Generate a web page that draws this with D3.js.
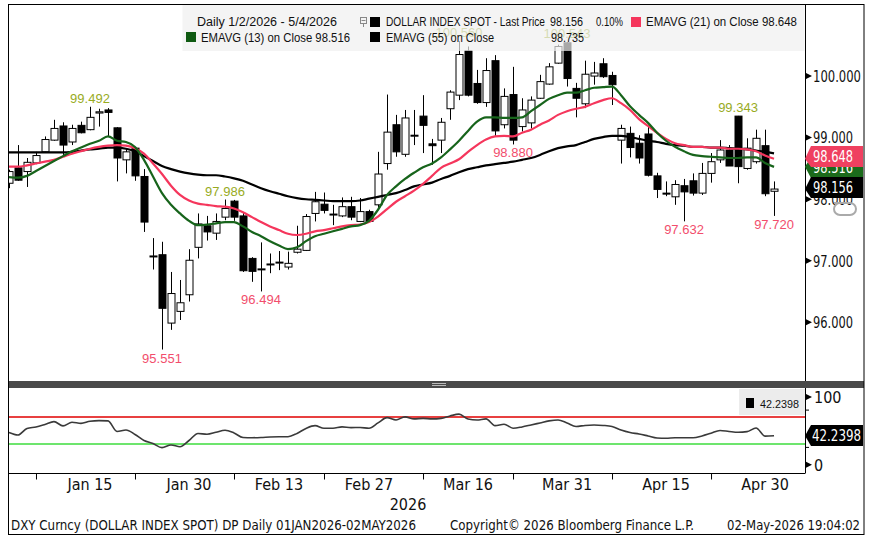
<!DOCTYPE html>
<html><head><meta charset="utf-8">
<script src="https://cdn.jsdelivr.net/npm/d3@7"></script>
<style>body{margin:0;background:#fff}svg{display:block}</style>
</head><body><svg id="c" width="873" height="538"></svg>
<script>
// ---------------- DATA ----------------
const dates = [
"2026-01-02","2026-01-05","2026-01-06","2026-01-07","2026-01-08","2026-01-09","2026-01-12","2026-01-13","2026-01-14","2026-01-15",
"2026-01-16","2026-01-19","2026-01-20","2026-01-21","2026-01-22","2026-01-23","2026-01-26","2026-01-27","2026-01-28","2026-01-29",
"2026-01-30","2026-02-02","2026-02-03","2026-02-04","2026-02-05","2026-02-06","2026-02-09","2026-02-10","2026-02-11","2026-02-12",
"2026-02-13","2026-02-16","2026-02-17","2026-02-18","2026-02-19","2026-02-20","2026-02-23","2026-02-24","2026-02-25","2026-02-26",
"2026-02-27","2026-03-02","2026-03-03","2026-03-04","2026-03-05","2026-03-06","2026-03-09","2026-03-10","2026-03-11","2026-03-12",
"2026-03-13","2026-03-16","2026-03-17","2026-03-18","2026-03-19","2026-03-20","2026-03-23","2026-03-24","2026-03-25","2026-03-26",
"2026-03-27","2026-03-30","2026-03-31","2026-04-01","2026-04-02","2026-04-03","2026-04-06","2026-04-07","2026-04-08","2026-04-09",
"2026-04-10","2026-04-13","2026-04-14","2026-04-15","2026-04-16","2026-04-17","2026-04-20","2026-04-21","2026-04-22","2026-04-23",
"2026-04-24","2026-04-27","2026-04-28","2026-04-29","2026-04-30","2026-05-01"];

const open = [
98.25,98.50,98.44,98.58,98.76,98.95,99.18,98.92,99.19,99.12,
99.39,99.44,99.15,98.63,98.82,98.36,97.06,97.09,95.98,96.17,
96.44,97.21,97.56,97.44,97.70,97.96,97.72,97.03,96.85,96.93,
96.96,96.89,97.13,97.16,97.76,97.91,97.74,97.72,97.87,97.63,
97.79,97.90,98.57,99.20,98.72,99.02,99.34,98.89,98.95,99.46,
99.68,100.40,99.87,99.56,100.24,99.20,99.69,99.17,99.23,99.63,
99.86,100.20,100.53,99.79,99.54,99.99,100.19,100.00,98.95,99.06,
98.90,99.05,98.37,98.09,98.03,98.21,98.29,98.09,98.41,98.63,
98.79,99.34,98.49,98.60,98.86,98.12];
const high = [
98.47,98.87,98.66,98.76,99.01,99.28,99.24,99.20,99.25,99.492,
99.46,99.47,99.16,98.82,98.84,98.48,97.36,97.30,96.81,96.68,
97.18,97.76,97.72,97.76,97.986,97.98,97.77,97.05,97.29,97.11,
97.15,97.14,97.56,97.75,98.11,98.10,97.90,98.02,98.03,98.01,
97.82,98.76,99.69,99.36,99.44,99.44,99.68,98.97,99.31,99.76,
100.56,100.47,100.09,100.28,100.33,99.79,100.14,99.63,99.66,100.01,
100.20,100.50,100.543,99.88,100.24,100.22,100.28,100.06,99.20,99.17,
99.03,99.17,98.42,98.28,98.30,98.32,98.41,98.58,98.74,98.95,
98.87,99.343,98.98,99.12,99.12,98.28];
const low = [
98.17,98.29,98.19,98.56,98.75,98.94,98.71,98.87,99.06,99.11,
99.17,99.01,98.28,98.41,98.29,97.46,96.85,95.551,95.87,96.03,
96.33,97.03,97.32,97.33,97.65,97.64,96.81,96.65,96.494,96.79,
96.84,96.85,97.11,97.15,97.63,97.76,97.57,97.70,97.65,97.62,
97.62,97.84,98.47,98.68,98.68,98.87,98.74,98.55,98.74,99.28,
99.60,99.66,99.54,99.49,99.02,99.14,98.880,99.09,99.14,99.62,
99.85,100.19,99.82,99.32,99.47,99.85,99.96,99.52,98.57,98.67,
98.57,98.36,98.01,98.04,97.90,97.632,98.05,98.06,98.26,98.58,
98.53,98.25,98.47,98.57,98.04,97.720];
const close = [
98.44,98.30,98.59,98.70,98.96,99.14,98.87,99.14,99.07,99.32,
99.41,99.40,98.66,98.76,98.37,97.62,97.07,96.22,96.46,96.31,
97.00,97.59,97.46,97.63,97.84,97.70,96.83,96.82,96.86,96.94,
96.97,96.95,97.18,97.71,97.95,97.81,97.75,97.87,97.70,97.79,
97.63,98.40,99.08,98.76,99.31,99.03,99.19,98.86,99.24,99.73,
100.34,99.68,99.56,100.08,99.10,99.66,98.95,99.44,99.60,99.90,
100.14,100.47,99.95,99.63,100.02,100.04,99.98,99.85,99.14,98.83,
98.66,98.38,98.15,98.08,98.23,98.11,98.09,98.41,98.60,98.79,
98.53,98.52,98.82,98.98,98.08,98.156];

const ema13 = [
98.35,98.34,98.37,98.45,98.53,98.61,98.69,98.77,98.83,98.89,
98.94,99.01,98.94,98.92,98.84,98.63,98.36,98.09,97.90,97.76,
97.64,97.57,97.58,97.60,97.62,97.62,97.55,97.46,97.39,97.31,
97.24,97.18,97.21,97.31,97.39,97.43,97.47,97.51,97.55,97.57,
97.64,97.82,98.06,98.20,98.32,98.42,98.51,98.57,98.67,98.80,
98.94,99.10,99.25,99.32,99.32,99.31,99.31,99.32,99.42,99.52,
99.62,99.68,99.72,99.72,99.76,99.80,99.81,99.82,99.68,99.50,
99.36,99.23,99.07,98.94,98.84,98.77,98.71,98.69,98.68,98.67,
98.66,98.66,98.67,98.67,98.58,98.516];
const ema21 = [
98.52,98.52,98.54,98.57,98.60,98.63,98.68,98.73,98.77,98.81,
98.84,98.86,98.87,98.86,98.82,98.73,98.57,98.40,98.21,98.06,
97.97,97.92,97.90,97.88,97.87,97.84,97.78,97.70,97.62,97.55,
97.49,97.43,97.41,97.43,97.47,97.49,97.52,97.55,97.57,97.58,
97.62,97.71,97.83,97.95,98.04,98.13,98.24,98.37,98.50,98.57,
98.64,98.76,98.87,98.96,99.01,99.02,99.01,99.07,99.12,99.20,
99.27,99.36,99.42,99.46,99.49,99.55,99.60,99.63,99.55,99.44,
99.29,99.18,99.07,98.97,98.90,98.87,98.84,98.84,98.83,98.83,
98.81,98.81,98.80,98.77,98.70,98.648];
const ema55 = [
98.75,98.75,98.75,98.75,98.75,98.75,98.75,98.76,98.78,98.80,
98.81,98.83,98.83,98.81,98.77,98.69,98.61,98.53,98.48,98.44,
98.41,98.39,98.38,98.38,98.36,98.33,98.29,98.23,98.17,98.12,
98.08,98.04,98.01,97.99,97.98,97.97,97.96,97.96,97.96,97.97,
98.00,98.03,98.06,98.09,98.14,98.20,98.23,98.26,98.32,98.37,
98.43,98.48,98.51,98.54,98.56,98.58,98.60,98.63,98.66,98.71,
98.77,98.82,98.85,98.87,98.92,98.97,99.00,99.02,99.02,99.00,
98.97,98.94,98.92,98.89,98.87,98.86,98.84,98.84,98.83,98.83,
98.82,98.81,98.80,98.78,98.76,98.735];
const rsi = [
47.0,43.3,53.0,55.2,58.9,63.0,56.7,62.1,60.4,63.6,
64.5,64.1,48.5,50.7,44.1,35.2,30.8,24.6,28.6,26.0,
35.2,45.6,44.4,47.3,50.3,46.3,39.6,39.3,39.6,40.4,
40.8,40.8,45.6,53.0,57.1,53.3,53.3,55.2,54.1,54.4,
53.3,61.1,68.9,65.5,70.0,67.0,67.8,67.0,67.8,71.4,
74.0,67.0,65.5,67.0,57.1,59.2,53.3,55.2,58.1,61.1,
64.1,65.5,61.1,55.9,57.4,58.1,57.4,55.9,50.7,47.0,
44.8,41.9,38.9,38.5,39.3,39.3,39.3,41.9,45.9,50.0,
48.5,47.3,48.2,53.7,41.6,42.2398];

const xTickDates = ["2026-01-15","2026-01-30","2026-02-13","2026-02-27","2026-03-16","2026-03-31","2026-04-15","2026-04-30"];
const xTickLabels = ["Jan 15","Jan 30","Feb 13","Feb 27","Mar 16","Mar 31","Apr 15","Apr 30"];
const xMinorTickDates = ["2026-01-07","2026-01-22","2026-02-06","2026-02-20","2026-03-09","2026-03-23","2026-04-07","2026-04-22"];
const yearLabel = "2026";
const priceTicks = [96, 97, 98, 99, 100];
const rsiTicks = [0, 100];
const rsiMinorTicks = [80, 25];
const rsiBands = [70, 30];
const extremeDates = ["2026-01-15","2026-02-05","2026-03-13","2026-03-31","2026-04-27","2026-01-27","2026-02-11","2026-03-23","2026-04-17","2026-05-01"];
const extremeKinds = ["high","high","high","high","high","low","low","low","low","low"];
const lastPrice = 98.156, lastChange = "0.10%", lastEma13 = 98.516, lastEma21 = 98.648, lastEma55 = 98.735, lastRsi = 42.2398;

// ---------------- SCALES ----------------
const svg = d3.select("#c");
const FN = "'Liberation Sans Narrow','Arial Narrow','DejaVu Sans Condensed','Liberation Sans',sans-serif";
const FR = "'Liberation Sans',Arial,sans-serif";
const idx = d => dates.indexOf(d);
const x = d3.scaleLinear().domain([-0.11, 88.44]).range([8, 805]);
const y = d3.scaleLinear().domain([95.04, 101.16]).range([381, 4]);
const yr = d3.scaleLinear().domain([-13.2, 112.6]).range([473.3, 388]);
const f3 = d3.format(".3f");

function txt(g, s, px, py, o = {}) {
  const t = g.append("text").attr("x", px).attr("y", py).text(s)
    .attr("font-family", o.ff || FN).attr("font-size", o.fs || 16)
    .attr("fill", o.fill || "#111");
  if (o.anchor) t.attr("text-anchor", o.anchor);
  if (o.len) t.attr("textLength", o.len).attr("lengthAdjust", "spacingAndGlyphs");
  if (o.op) t.attr("opacity", o.op);
  return t;
}

const defs = svg.append("defs");
defs.append("clipPath").attr("id", "mainClip").append("rect").attr("x", 8).attr("y", 4).attr("width", 797).attr("height", 377);
defs.append("clipPath").attr("id", "rsiClip").append("rect").attr("x", 8).attr("y", 388).attr("width", 797).attr("height", 85);

// ---------------- MAIN PANEL ----------------
const main = svg.append("g").attr("clip-path", "url(#mainClip)");
const cg = main.append("g");
dates.forEach((d, i) => {
  const cx = Math.round(x(i)) + 0.5;
  cg.append("line").attr("x1", cx).attr("x2", cx).attr("y1", y(high[i])).attr("y2", y(low[i]))
    .attr("stroke", "#000").attr("stroke-width", 1);
  const top = y(Math.max(open[i], close[i])), bot = y(Math.min(open[i], close[i]));
  cg.append("rect").attr("x", cx - 3.5).attr("width", 7).attr("y", top).attr("height", Math.max(1, bot - top))
    .attr("fill", close[i] >= open[i] ? "#fff" : "#000").attr("stroke", "#000").attr("stroke-width", 1);
});
const line = arr => d3.line().x((d, i) => x(i)).y(d => y(d)).curve(d3.curveMonotoneX)(arr);
main.append("path").attr("d", line(ema55)).attr("fill", "none").attr("stroke", "#000").attr("stroke-width", 2.2);
main.append("path").attr("d", line(ema21)).attr("fill", "none").attr("stroke", "#f5365c").attr("stroke-width", 2.2);
main.append("path").attr("d", line(ema13)).attr("fill", "none").attr("stroke", "#17641b").attr("stroke-width", 2.2);

// extreme labels
extremeDates.forEach((d, k) => {
  const i = idx(d);
  if (extremeKinds[k] === "high") {
    txt(main, f3(high[i]), x(i), y(high[i]) - 4, { anchor: "middle", fs: 13, ff: FR, fill: "#98ab1e" });
  } else {
    txt(main, f3(low[i]), x(i), y(low[i]) + 13, { anchor: "middle", fs: 13, ff: FR, fill: "#f24d6c" });
  }
});

// legend box
const lg = svg.append("g");
lg.append("rect").attr("x", 182.5).attr("y", 5).attr("width", 622).attr("height", 46).attr("fill", "#efefef").attr("opacity", 0.7);
txt(lg, "Daily 1/2/2026 - 5/4/2026", 197, 26, { ff: FR, fs: 12.5, len: 140 });
lg.append("rect").attr("x", 360.5).attr("y", 17.5).attr("width", 6).attr("height", 6).attr("fill", "none").attr("stroke", "#888");
lg.append("line").attr("x1", 361.5).attr("x2", 365.5).attr("y1", 20.5).attr("y2", 20.5).attr("stroke", "#888");
lg.append("line").attr("x1", 363.5).attr("x2", 363.5).attr("y1", 23.5).attr("y2", 27).attr("stroke", "#888");
lg.append("rect").attr("x", 370).attr("y", 17).attr("width", 10).attr("height", 10).attr("fill", "#000");
txt(lg, "DOLLAR INDEX SPOT - Last Price", 386, 26, { ff: FR, fs: 12.5, len: 159 });
txt(lg, f3(lastPrice), 550, 26, { ff: FR, fs: 12.5, len: 33 });
txt(lg, lastChange, 596, 26, { ff: FR, fs: 12.5, len: 27 });
lg.append("rect").attr("x", 631).attr("y", 17).attr("width", 10).attr("height", 10).attr("fill", "#f5365c");
txt(lg, "EMAVG (21)  on Close " + f3(lastEma21), 646, 26, { ff: FR, fs: 12.5, len: 151 });
lg.append("rect").attr("x", 186).attr("y", 32).attr("width", 10).attr("height", 10).attr("fill", "#0f5a12");
txt(lg, "EMAVG (13)  on Close " + f3(lastEma13), 201, 42, { ff: FR, fs: 12.5, len: 149 });
lg.append("rect").attr("x", 370).attr("y", 32).attr("width", 10).attr("height", 10).attr("fill", "#000");
txt(lg, "EMAVG (55)  on Close", 386, 42, { ff: FR, fs: 12.5, len: 108 });
txt(lg, f3(lastEma55), 551, 42, { ff: FR, fs: 12.5, len: 33 });

// right axis (main)
svg.append("line").attr("x1", 805.5).attr("x2", 805.5).attr("y1", 4).attr("y2", 381).attr("stroke", "#000");
const yAxis = d3.axisRight(y).tickValues(priceTicks).tickSize(0).tickFormat(f3);
const ya = svg.append("g").attr("transform", "translate(805,0)").call(yAxis);
ya.select(".domain").remove();
ya.selectAll(".tick text").attr("x", 8).attr("dy", "0.36em").attr("font-family", FN).attr("font-size", 16).attr("fill", "#111")
  .attr("text-anchor", "start").attr("textLength", d => d >= 100 ? 48 : 40).attr("lengthAdjust", "spacingAndGlyphs");
ya.selectAll(".tick").append("path").attr("d", "M0,-3.5L7,0L0,3.5Z").attr("fill", "#000");

// annotation glyph (gray, partly behind tags)
svg.append("path").attr("d", "M834,203L850,203A6,6 0 1 1 850,215L840,215A6,6 0 0 1 840,203")
  .attr("fill", "none").attr("stroke", "#aaa").attr("stroke-width", 2);

// value tags
function tag(v, yy, fill, sc) {
  const h = 21, t = Math.round(yy - h / 2);
  const g = svg.append("g");
  g.append("path").attr("d", `M805,${sc}L811,${t}L863,${t}L863,${t + h}L811,${t + h}Z`).attr("fill", fill);
  txt(g, v, 813, t + 16, { fill: "#fff", fs: 16, len: 40 });
}
tag(f3(lastEma13), y(lastEma13) + 1, "#1b6b1b", y(lastEma13));
tag(f3(lastEma21), y(lastEma21) - 2.5, "#ef4060", y(lastEma21));
tag(f3(lastPrice), y(lastPrice) - 1.5, "#000", y(lastPrice));

// ---------------- DIVIDER ----------------
svg.append("rect").attr("x", 8).attr("y", 381).attr("width", 856).attr("height", 7).attr("fill", "#4a4a4a");
svg.append("line").attr("x1", 432).attr("x2", 446).attr("y1", 383.5).attr("y2", 383.5).attr("stroke", "#bbb");
svg.append("line").attr("x1", 432).attr("x2", 446).attr("y1", 385.5).attr("y2", 385.5).attr("stroke", "#bbb");

// ---------------- RSI PANEL ----------------
const rp = svg.append("g").attr("clip-path", "url(#rsiClip)");
rsiBands.forEach((b, k) => {
  rp.append("line").attr("x1", 8).attr("x2", 805).attr("y1", yr(b)).attr("y2", yr(b))
    .attr("stroke", k === 0 ? "#e00000" : "#3ddc3d").attr("stroke-width", 1.5);
});
rp.append("path").attr("d", d3.line().x((d, i) => x(i)).y(d => yr(d)).curve(d3.curveMonotoneX)(rsi))
  .attr("fill", "none").attr("stroke", "#3a3a3a").attr("stroke-width", 1.6);
const rl = svg.append("g");
rl.append("rect").attr("x", 739).attr("y", 389).attr("width", 66).attr("height", 26).attr("fill", "#ececec");
rl.append("rect").attr("x", 746).attr("y", 398).attr("width", 8).attr("height", 10).attr("fill", "#000");
txt(rl, String(lastRsi), 760, 408, { ff: FR, fs: 11.5, len: 39 });

svg.append("line").attr("x1", 805.5).attr("x2", 805.5).attr("y1", 388).attr("y2", 473.5).attr("stroke", "#000");
const ra = svg.append("g").attr("transform", "translate(805,0)").call(d3.axisRight(yr).tickValues(rsiTicks).tickSize(0));
ra.select(".domain").remove();
ra.selectAll(".tick text").attr("x", 9).attr("dy", "0.36em").attr("font-family", FN).attr("font-size", 16).attr("fill", "#111").attr("text-anchor", "start");
ra.selectAll(".tick").append("path").attr("d", "M0,-3.5L7,0L0,3.5Z").attr("fill", "#000");
rsiMinorTicks.forEach(v => svg.append("line").attr("x1", 805).attr("x2", 809).attr("y1", yr(v)).attr("y2", yr(v)).attr("stroke", "#000"));
{
  const sc = yr(lastRsi), t = Math.round(sc - 11);
  svg.append("path").attr("d", `M805,${sc}L811,${t}L863,${t}L863,${t + 21}L811,${t + 21}Z`).attr("fill", "#000");
  txt(svg, String(lastRsi), 812, t + 16, { fill: "#fff", fs: 16, len: 49 });
}

// x axis
svg.append("line").attr("x1", 8).attr("x2", 805).attr("y1", 473.5).attr("y2", 473.5).attr("stroke", "#000");
const xa = svg.append("g").attr("transform", "translate(0,473.5)")
  .call(d3.axisBottom(x).tickValues(xMinorTickDates.map(idx)).tickSize(6).tickFormat(""));
xa.select(".domain").remove();
xTickDates.forEach((d, k) => txt(svg, xTickLabels[k], x(idx(d)), 490, { anchor: "middle", fs: 16 }));
txt(svg, yearLabel, 408, 510, { anchor: "middle", fs: 16 });

// footer
txt(svg, "DXY Curncy (DOLLAR INDEX SPOT) DP Daily 01JAN2026-02MAY2026", 11, 530, { fs: 14.5, len: 405 });
txt(svg, "Copyright\u00a9 2026 Bloomberg Finance L.P.", 450, 530, { fs: 14.5, len: 244 });
txt(svg, "02-May-2026 19:04:02", 727, 530, { fs: 14.5, len: 133 });

// frame
svg.append("rect").attr("x", 8.5).attr("y", 4.5).attr("width", 855.5).attr("height", 530).attr("fill", "none").attr("stroke", "#000");
</script></body></html>
